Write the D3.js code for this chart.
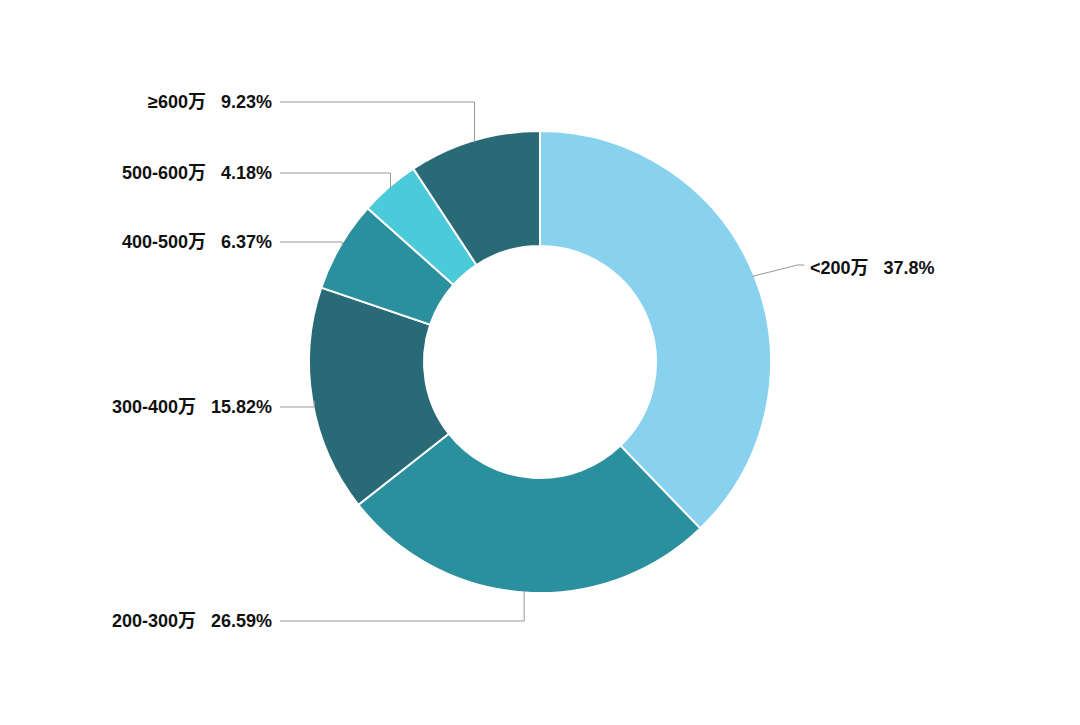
<!DOCTYPE html>
<html><head><meta charset="utf-8">
<script src="https://cdn.jsdelivr.net/npm/d3@7"></script>
<style>body{margin:0;background:#fff}text{font-family:"Liberation Sans","Noto Sans CJK SC",sans-serif;font-weight:bold;font-size:18px;fill:#111}</style>
</head><body><svg id="c" width="1080" height="725"></svg>
<script>
const categories = ["<200万", "200-300万", "300-400万", "400-500万", "500-600万", "≥600万"];
const values = [37.8, 26.59, 15.82, 6.37, 4.18, 9.23];
const colors = ["#88d1ef", "#2a909e", "#286a76", "#2a909e", "#4bcad9", "#286a76"];
const labelY = [268, 621, 407, 242, 173, 102];

const svg = d3.select("#c");
const cx = 540, cy = 362, R = 231, r = 116;
const g = svg.append("g").attr("transform", `translate(${cx},${cy})`);
const pie = d3.pie().sort(null).value(d => d)(values);
const arc = d3.arc().innerRadius(r).outerRadius(R);

g.selectAll("path").data(pie).join("path")
  .attr("d", arc).attr("fill", (d, i) => colors[i])
  .attr("stroke", "#fff").attr("stroke-width", 2);

pie.forEach((d, i) => {
  const a = (d.startAngle + d.endAngle) / 2;
  const x0 = cx + Math.sin(a) * (R - 2), y0 = cy - Math.cos(a) * (R - 2);
  const right = x0 > cx;
  const pts = right
    ? [[x0, y0], [x0 + 45, labelY[i] - 3], [x0 + 52, labelY[i] - 3]]
    : [[x0, y0], [x0, labelY[i]], [280, labelY[i]]];
  svg.append("polyline").attr("points", pts.map(p => p.join(",")).join(" "))
    .attr("fill", "none").attr("stroke", "#999").attr("stroke-width", 1);
  const t = svg.append("text").attr("y", labelY[i] + 6)
    .attr("x", right ? 810 : 272).attr("text-anchor", right ? "start" : "end")
    .attr("xml:space", "preserve");
  t.text(`${categories[i]}   ${values[i]}%`);
});
</script></body></html>
